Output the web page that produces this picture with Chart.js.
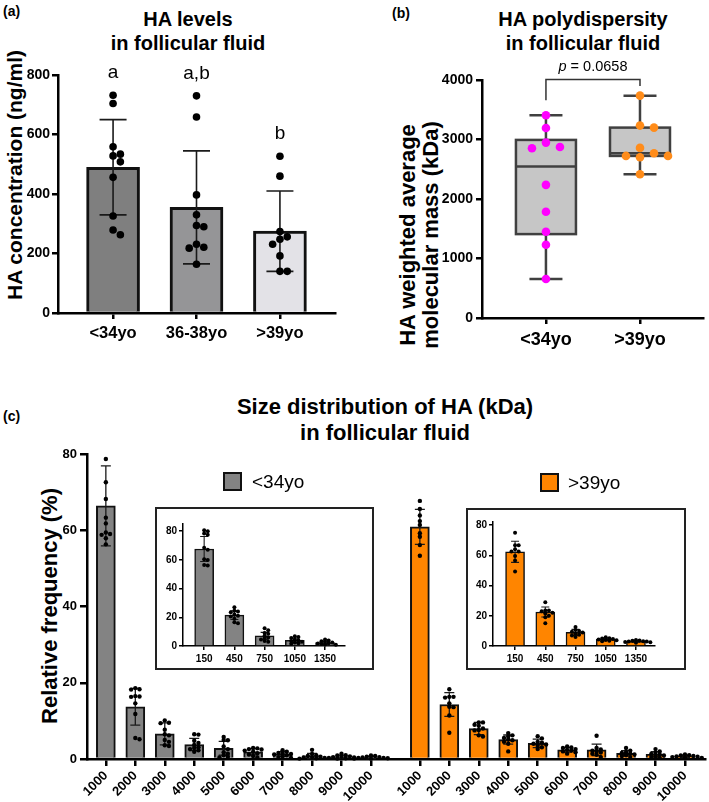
<!DOCTYPE html>
<html>
<head>
<meta charset="utf-8">
<script src="https://cdn.jsdelivr.net/npm/chart.js@4/dist/chart.umd.min.js"></script>
<style>
body { margin: 0; width: 709px; height: 802px; position: relative; overflow: hidden; background: #fff;
       font-family: "Liberation Sans", Arial, sans-serif; color: #000; }
canvas { position: absolute; }
.txt { position: absolute; white-space: nowrap; text-align: center; transform: translate(-50%, -50%); }
.b { font-weight: bold; }
.rot { transform: translate(-50%, -50%) rotate(-90deg); }
.lbl { position: absolute; font-weight: bold; font-size: 14px; }
.box { position: absolute; box-sizing: border-box; border: 2px solid #222; }
.sq { position: absolute; box-sizing: border-box; width: 19px; height: 19px; border: 2px solid #111; }
.leg { position: absolute; font-size: 19px; transform: translateY(-50%); white-space: nowrap; }
</style>
</head>
<body>

<div class="lbl" style="left:3px;top:3px">(a)</div>
<div class="lbl" style="left:392px;top:5px">(b)</div>
<div class="lbl" style="left:3px;top:408px">(c)</div>

<div class="txt b" style="left:188px;top:31px;font-size:20px;line-height:24px">HA levels<br>in follicular fluid</div>
<div class="txt b" style="left:583px;top:31px;font-size:20px;line-height:24px">HA polydispersity<br>in follicular fluid</div>
<div class="txt b" style="left:385px;top:420px;font-size:22px;line-height:26px">Size distribution of HA (kDa)<br>in follicular fluid</div>

<div class="txt b rot" style="left:15px;top:175px;font-size:21px">HA concentration (ng/ml)</div>
<div class="txt b rot" style="left:419px;top:235px;font-size:22px;line-height:23px">HA weighted average<br>molecular mass (kDa)</div>
<div class="txt b rot" style="left:50px;top:606px;font-size:22px">Relative frequency (%)</div>

<canvas id="chartA" width="345" height="300" style="left:0;top:55px"></canvas>
<canvas id="chartB" width="349" height="300" style="left:360px;top:55px"></canvas>
<canvas id="chartC" width="709" height="362" style="left:0;top:440px"></canvas>

<div class="sq" style="left:223px;top:472px;background:#838383"></div>
<div class="leg" style="left:252px;top:482px">&lt;34yo</div>
<div class="sq" style="left:540px;top:473px;background:#ff8500"></div>
<div class="leg" style="left:568px;top:483px">&gt;39yo</div>

<div class="box" style="left:155px;top:507px;width:219px;height:163px"></div>
<div class="box" style="left:466px;top:508px;width:220px;height:162px"></div>
<canvas id="insetL" width="215" height="159" style="left:157px;top:509px"></canvas>
<canvas id="insetR" width="216" height="158" style="left:468px;top:510px"></canvas>

<script>
/* globals Chart: false */

// (a) HA levels
var groupsA = ['<34yo', '36-38yo', '>39yo'];
var haMean = [490, 355, 275];
var haSd = [160, 190, 135];
var haLetters = ['a', 'a,b', 'b'];
var haPoints = [
    [732, 704, 559, 534, 528, 508, 456, 326, 279, 263],
    [730, 659, 397, 330, 294, 290, 231, 221, 218, 164],
    [527, 460, 274, 256, 248, 231, 192, 140, 140]
];
var haTicks = [0, 200, 400, 600, 800];

// (b) HA polydispersity
var groupsB = ['<34yo', '>39yo'];
var mwMin = [655, 2417];
var mwQ1 = [1410, 2724];
var mwMedian = [2545, 2769];
var mwQ3 = [2993, 3200];
var mwMax = [3407, 3737];
var mwPoints = [
    [3407, 3194, 2948, 2875, 2853, 2238, 1785, 1449, 1231, 655],
    [3737, 3234, 3200, 2859, 2769, 2724, 2724, 2702, 2417]
];
var mwTicks = [0, 1000, 2000, 3000, 4000];
var pValue = '0.0658';

// (c) size distribution
var sizeBins = ['1000', '2000', '3000', '4000', '5000', '6000', '7000', '8000', '9000', '10000'];
var youngMean = [66.4, 13.7, 6.6, 3.8, 2.8, 1.9, 1.3, 0.8, 0.6, 0.4];
var youngSd = [10.5, 4.8, 2.9, 1.6, 1.8, 0.8, 0.6, 0.7, 0.4, 0.3];
var youngPoints = [
    [78.7, 72.6, 68.2, 63.3, 61.8, 59.4, 59.0, 58.8, 57.9, 56.3],
    [18.6, 18.3, 18.2, 16.5, 16.4, 16.3, 14.6, 11.8, 5.5, 5.2],
    [10.1, 9.5, 9.4, 7.7, 6.5, 6.2, 5.0, 4.5, 3.6, 3.4],
    [6.5, 6.4, 4.8, 4.2, 3.7, 3.1, 2.9, 2.6, 2.3, 1.9],
    [5.8, 5.0, 4.9, 3.3, 2.6, 1.8, 1.4, 1.0, 0.6, 0.4],
    [2.9, 2.8, 2.6, 2.5, 2.2, 1.9, 1.5, 1.2, 0.8, 0.4],
    [2.3, 1.9, 1.6, 1.5, 1.3, 1.2, 1.0, 0.7, 0.5, 0.3],
    [2.4, 1.3, 1.0, 0.8, 0.6, 0.5, 0.4, 0.3, 0.2, 0.1],
    [1.4, 1.0, 0.9, 0.7, 0.6, 0.5, 0.4, 0.3, 0.2, 0.1],
    [0.9, 0.8, 0.6, 0.5, 0.4, 0.3, 0.3, 0.2, 0.1, 0.1]
];
var oldMean = [60.9, 14.3, 8.0, 5.1, 4.1, 2.4, 2.4, 1.5, 1.2, 0.7];
var oldSd = [4.6, 3.1, 1.6, 1.2, 1.1, 0.6, 1.5, 0.7, 0.7, 0.3];
var oldPoints = [
    [67.7, 65.6, 63.9, 62.4, 61.4, 59.2, 58.3, 56.1, 53.3],
    [18.3, 16.3, 16.3, 16.1, 14.6, 13.7, 13.6, 11.4, 6.9],
    [9.6, 9.6, 9.0, 8.7, 8.0, 7.6, 7.5, 6.2, 5.9],
    [6.8, 6.2, 6.0, 5.5, 5.2, 4.9, 4.5, 4.0, 2.0],
    [6.0, 5.4, 4.5, 4.3, 4.0, 3.8, 3.5, 3.1, 2.6],
    [3.3, 3.0, 2.9, 2.6, 2.4, 2.2, 2.0, 1.8, 1.4],
    [6.1, 2.9, 2.5, 2.2, 2.0, 1.7, 1.4, 1.1, 0.5],
    [2.9, 2.2, 1.8, 1.6, 1.4, 1.2, 1.0, 0.8, 0.5],
    [2.6, 2.0, 1.6, 1.3, 1.1, 0.9, 0.7, 0.5, 0.3],
    [1.2, 1.0, 0.9, 0.8, 0.7, 0.6, 0.5, 0.4, 0.3]
];
var freqTicks = [0, 20, 40, 60, 80];

// (c) insets, low sizes
var insetBins = ['150', '450', '750', '1050', '1350'];
var youngInsetMean = [67.6, 21.5, 7.0, 4.0, 2.4];
var youngInsetSd = [8.7, 3.0, 2.5, 1.6, 1.0];
var youngInsetPoints = [
    [80.6, 80.0, 78.3, 77.5, 68.5, 67.0, 60.5, 60.0, 56.5, 56.0],
    [27.0, 24.5, 24.0, 23.5, 22.0, 21.0, 20.5, 19.0, 16.5, 15.8],
    [12.3, 11.0, 9.0, 8.5, 7.2, 6.0, 5.5, 4.5, 3.5, 3.0],
    [6.8, 6.2, 5.5, 4.5, 4.0, 3.5, 3.0, 2.5, 2.0, 1.5],
    [4.5, 3.8, 3.3, 2.8, 2.4, 2.0, 1.7, 1.4, 1.0, 0.8]
];
var oldInsetMean = [62.3, 22.5, 9.0, 4.4, 3.1];
var oldInsetSd = [7.0, 3.3, 2.0, 0.8, 0.6];
var oldInsetPoints = [
    [74.9, 66.6, 66.6, 64.0, 62.5, 62.5, 59.5, 56.5, 49.2],
    [29.0, 23.5, 23.5, 23.0, 22.0, 21.5, 20.0, 19.0, 15.0],
    [12.5, 10.5, 10.0, 9.5, 9.0, 8.2, 7.5, 7.0, 6.0],
    [5.8, 5.2, 5.0, 4.6, 4.3, 4.0, 3.8, 3.5, 3.2],
    [4.0, 3.7, 3.5, 3.2, 3.0, 2.9, 2.7, 2.5, 2.2]
];

var FONT = '"Liberation Sans", Arial, sans-serif';
var GRAY = '#838383';
var ORANGE = '#ff8500';
var groupShift = 10.66;   // where the >39yo block starts on the x axis of (c)

function indexes(arr, shift) {
    return arr.map(function (v, i) { return i + (shift || 0); });
}

function yAxis(max, ticks, size, width, tickLen, pad, bw) {
    return {
        type: 'linear', min: 0, max: max,
        afterBuildTicks: function (s) { s.ticks = ticks.map(function (v) { return {value: v}; }); },
        afterFit: function (s) { s.width = width; },
        border: {display: true, color: '#000', width: bw},
        grid: {drawOnChartArea: false, drawTicks: true, tickLength: tickLen, color: '#000', lineWidth: bw},
        ticks: {
            color: '#000', padding: pad, font: {family: FONT, size: size, weight: 'bold'},
            callback: function (v) { return String(v); }
        }
    };
}

function xAxis(min, max, pos, labels, size, height, tickLen, pad, bw, rot) {
    return {
        type: 'linear', min: min, max: max, offset: false,
        afterBuildTicks: function (s) { s.ticks = pos.map(function (v) { return {value: v}; }); },
        afterFit: function (s) { s.height = height; },
        border: {display: true, color: '#000', width: bw},
        grid: {drawOnChartArea: false, drawTicks: true, tickLength: tickLen, color: '#000', lineWidth: bw, offset: false},
        ticks: {
            color: '#000', padding: pad, autoSkip: false, minRotation: rot, maxRotation: rot,
            font: {family: FONT, size: size, weight: 'bold'},
            callback: function (v, i) { return labels[i]; }
        }
    };
}

function barSet(pos, means, colors, thick, bw) {
    return {
        type: 'bar',
        data: means.map(function (v, i) { return {x: pos[i], y: v}; }),
        backgroundColor: colors, borderColor: '#111', borderWidth: bw,
        barThickness: thick, maxBarThickness: thick, grouped: false
    };
}

function baseOptions(scales, padding) {
    return {
        responsive: false, animation: false, events: [],
        layout: {padding: padding},
        plugins: {legend: {display: false}, tooltip: {enabled: false}, title: {display: false}},
        scales: scales
    };
}

// spread the dots sideways so they do not sit on top of each other
function swarm(values, cx, ys, r, step, gap) {
    var placed = [];
    values.slice().sort(function (a, b) { return b - a; }).forEach(function (v) {
        var y = ys.getPixelForValue(v);
        for (var k = 0; k < 30; k++) {
            var off = k === 0 ? 0 : (k % 2 ? 1 : -1) * Math.ceil(k / 2) * step;
            var x = cx + off;
            var hit = placed.some(function (p) {
                return Math.abs(p.x - x) < step * 0.9 && Math.abs(p.y - y) < gap * r;
            });
            if (!hit || k === 29) { placed.push({x: x, y: y}); break; }
        }
    });
    return placed;
}

function drawDots(chart, pos, groups, r, step, color, gap) {
    var ctx = chart.ctx, xs = chart.scales.x, ys = chart.scales.y;
    ctx.save();
    groups.forEach(function (vals, i) {
        ctx.fillStyle = Array.isArray(color) ? color[i] : color;
        swarm(vals, xs.getPixelForValue(pos[i]), ys, r, step, gap || 2).forEach(function (p) {
            ctx.beginPath();
            ctx.arc(p.x, p.y, r, 0, Math.PI * 2);
            ctx.fill();
        });
    });
    ctx.restore();
}

function drawErrorBars(chart, pos, mean, sd, cap, lw) {
    var ctx = chart.ctx, xs = chart.scales.x, ys = chart.scales.y;
    ctx.save();
    ctx.strokeStyle = '#1a1a1a';
    ctx.lineWidth = lw;
    mean.forEach(function (m, i) {
        var x = xs.getPixelForValue(pos[i]);
        var top = ys.getPixelForValue(m + sd[i]);
        var bot = ys.getPixelForValue(Math.max(0, m - sd[i]));
        ctx.beginPath();
        ctx.moveTo(x, top); ctx.lineTo(x, bot);
        ctx.moveTo(x - cap / 2, top); ctx.lineTo(x + cap / 2, top);
        ctx.moveTo(x - cap / 2, bot); ctx.lineTo(x + cap / 2, bot);
        ctx.stroke();
    });
    ctx.restore();
}

// (a)
var posA = indexes(groupsA);
var overlayA = {
    id: 'overlayA',
    afterDatasetsDraw: function (chart) {
        drawErrorBars(chart, posA, haMean, haSd, 27, 1.6);
        drawDots(chart, posA, haPoints, 3.8, 7.3, '#000');
        var ctx = chart.ctx;
        ctx.save();
        ctx.fillStyle = '#000';
        ctx.font = '19px ' + FONT;
        ctx.textAlign = 'center';
        ctx.textBaseline = 'middle';
        haLetters.forEach(function (t, i) {
            var top = Math.max(Math.max.apply(null, haPoints[i]), haMean[i] + haSd[i]);
            ctx.fillText(t, chart.scales.x.getPixelForValue(posA[i]), chart.scales.y.getPixelForValue(top) - 22);
        });
        ctx.restore();
    }
};

new Chart(document.getElementById('chartA').getContext('2d'), {
    type: 'bar',
    data: {datasets: [barSet(posA, haMean, ['#7f7f7f', '#959597', '#e3e2e7'], 53, 3)]},
    options: baseOptions({
        x: xAxis(-0.66, 2.66, posA, groupsA, 16.5, 42, 6, 5, 2.5, 0),
        y: yAxis(800, haTicks, 14, 58, 6, 2, 2.5)
    }, {top: 20, right: 10, left: 0, bottom: 0}),
    plugins: [overlayA]
});

// (b)
var posB = indexes(groupsB);
var bracketY = 4010;
var bracketLegs = [3660, 3900];
var overlayB = {
    id: 'overlayB',
    afterDatasetsDraw: function (chart) {
        var ctx = chart.ctx, xs = chart.scales.x, ys = chart.scales.y;
        ctx.save();
        ctx.strokeStyle = '#404040';
        ctx.lineWidth = 2.5;
        posB.forEach(function (p, i) {
            var x = xs.getPixelForValue(p), half = 30, cap = 16.5;
            var yMin = ys.getPixelForValue(mwMin[i]), yMax = ys.getPixelForValue(mwMax[i]);
            var yQ1 = ys.getPixelForValue(mwQ1[i]), yQ3 = ys.getPixelForValue(mwQ3[i]);
            var yMed = ys.getPixelForValue(mwMedian[i]);
            ctx.beginPath();
            ctx.moveTo(x, yMax); ctx.lineTo(x, yQ3);
            ctx.moveTo(x, yQ1); ctx.lineTo(x, yMin);
            ctx.moveTo(x - cap, yMax); ctx.lineTo(x + cap, yMax);
            ctx.moveTo(x - cap, yMin); ctx.lineTo(x + cap, yMin);
            ctx.stroke();
            ctx.fillStyle = '#c6c6c6';
            ctx.fillRect(x - half, yQ3, half * 2, yQ1 - yQ3);
            ctx.strokeRect(x - half, yQ3, half * 2, yQ1 - yQ3);
            ctx.beginPath();
            ctx.moveTo(x - half, yMed); ctx.lineTo(x + half, yMed);
            ctx.stroke();
        });
        // significance bracket
        var x0 = xs.getPixelForValue(posB[0]), x1 = xs.getPixelForValue(posB[1]);
        var yb = ys.getPixelForValue(bracketY);
        ctx.strokeStyle = '#333';
        ctx.lineWidth = 1.5;
        ctx.beginPath();
        ctx.moveTo(x0, ys.getPixelForValue(bracketLegs[0]));
        ctx.lineTo(x0, yb); ctx.lineTo(x1, yb);
        ctx.lineTo(x1, ys.getPixelForValue(bracketLegs[1]));
        ctx.stroke();
        ctx.fillStyle = '#000';
        ctx.textBaseline = 'middle';
        ctx.textAlign = 'left';
        var italic = 'italic 14.5px ' + FONT, plain = '14.5px ' + FONT, rest = ' = ' + pValue;
        ctx.font = italic;
        var w1 = ctx.measureText('p').width;
        ctx.font = plain;
        var w2 = ctx.measureText(rest).width;
        var sx = (x0 + x1) / 2 - (w1 + w2) / 2;
        ctx.font = italic;
        ctx.fillText('p', sx, yb - 12);
        ctx.font = plain;
        ctx.fillText(rest, sx + w1, yb - 12);
        ctx.restore();
        drawDots(chart, posB, mwPoints, 4.3, 14, ['#ff00ff', '#ff8c1a']);
    }
};

new Chart(document.getElementById('chartB').getContext('2d'), {
    type: 'scatter',
    data: {datasets: [{data: []}]},
    options: baseOptions({
        x: xAxis(-0.68, 1.67, posB, groupsB, 18, 37, 6, 5, 2.5, 0),
        y: yAxis(4000, mwTicks, 14, 122, 6, 3, 2.5)
    }, {top: 25, right: 6, left: 0, bottom: 0}),
    plugins: [overlayB]
});

// (c) main chart
var posYoung = indexes(sizeBins);
var posOld = indexes(sizeBins, groupShift);
var overlayC = {
    id: 'overlayC',
    afterDatasetsDraw: function (chart) {
        drawErrorBars(chart, posYoung, youngMean, youngSd, 10, 1.3);
        drawErrorBars(chart, posOld, oldMean, oldSd, 10, 1.3);
        drawDots(chart, posYoung, youngPoints, 2.2, 4.2, '#000', 1.3);
        drawDots(chart, posOld, oldPoints, 2.2, 4.2, '#000', 1.3);
    }
};

new Chart(document.getElementById('chartC').getContext('2d'), {
    type: 'bar',
    data: {datasets: [
        barSet(posYoung, youngMean, GRAY, 19, 2),
        barSet(posOld, oldMean, ORANGE, 19, 2)
    ]},
    options: baseOptions({
        x: xAxis(-0.64, 20.34, posYoung.concat(posOld), sizeBins.concat(sizeBins), 13, 43, 7, 2, 2.5, 45),
        y: yAxis(80, freqTicks, 13, 87, 7, 3, 2.5)
    }, {top: 14, right: 4, left: 0, bottom: 0}),
    plugins: [overlayC]
});

// (c) insets
function insetChart(id, means, sds, points, color, min, max, yMax, yWidth, pad) {
    var pos = indexes(insetBins);
    new Chart(document.getElementById(id).getContext('2d'), {
        type: 'bar',
        data: {datasets: [barSet(pos, means, color, 19, 1.5)]},
        options: baseOptions({
            x: xAxis(min, max, pos, insetBins, 10, 22, 4, 3, 1.5, 0),
            y: yAxis(yMax, freqTicks, 10, yWidth, 4, 2, 1.5)
        }, pad),
        plugins: [{
            id: 'overlay' + id,
            afterDatasetsDraw: function (chart) {
                drawErrorBars(chart, pos, means, sds, 8, 1.1);
                drawDots(chart, pos, points, 2.0, 3.6, '#000', 1.2);
            }
        }]
    });
}

insetChart('insetL', youngInsetMean, youngInsetSd, youngInsetPoints, GRAY, -0.7, 4.66, 85, 26,
    {top: 15, right: 27, left: 0, bottom: 0});
insetChart('insetR', oldInsetMean, oldInsetSd, oldInsetPoints, ORANGE, -0.73, 4.63, 82, 25,
    {top: 12, right: 29, left: 0, bottom: 0});
</script>
</body>
</html>
